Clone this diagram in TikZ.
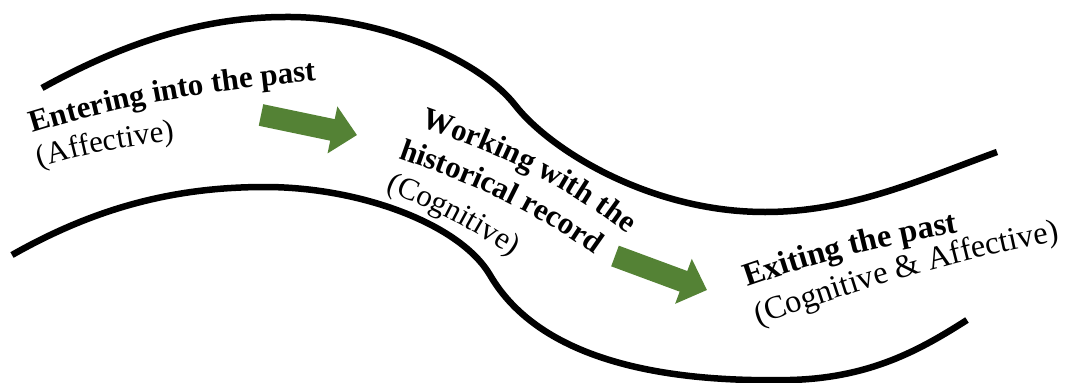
\documentclass[tikz,border=0pt]{standalone}
\usepackage{fontspec}
\setmainfont{Liberation Serif}
\usetikzlibrary{decorations.text}
\definecolor{arrowgreen}{RGB}{84,130,53}
\tikzset{
  road/.style={line width=6.5pt, line cap=butt},
  blockarrow/.pic={\fill[arrowgreen] (0,-11) -- (73,-11) -- (73,-24) -- (98,0) -- (73,24) -- (73,11) -- (0,11) -- cycle;},
  boldtext/.style 2 args={decorate, decoration={text along path, text={|\fontsize{#1}{#1}\selectfont\bfseries|#2}}},
  plaintext/.style 2 args={decorate, decoration={text along path, text={|\fontsize{#1}{#1}\selectfont|#2}}}
}
\begin{document}
\begin{tikzpicture}[x=1pt,y=-1pt]
\useasboundingbox (0,0) rectangle (1066,383);
% road edges
\draw[road] (42,88) .. controls (120,45) and (200,17) .. (285,17)
  .. controls (380,16) and (480,60) .. (515,105)
  .. controls (550,150) and (650,212) .. (765,212)
  .. controls (850,212) and (920,180) .. (997,152);
\draw[road] (12,255) .. controls (100,205) and (180,187) .. (265,187)
  .. controls (360,187) and (460,224) .. (490,275)
  .. controls (522,330) and (600,384) .. (790,380)
  .. controls (870,378) and (920,350) .. (967,320);
% arrows
\pic[rotate=-11.8] at (261,115) {blockarrow};
\pic[rotate=-20.3] at (615,256) {blockarrow};
% texts
\path[boldtext={31}{Entering into the past}] (33,133) .. controls (130,103) and (230,85) .. (400,74);
\path[plaintext={31}{(Affective)}] (40,168) .. controls (80,155) and (130,143) .. (240,134);
\path[boldtext={31}{Working with the}] (420,127) .. controls (485,150) and (575,180) .. (680,280);
\path[boldtext={31}{historical record}] (398,158) .. controls (460,180) and (550,210) .. (650,300);
\path[plaintext={31}{(Cognitive)}] (386,190) .. controls (420,205) and (470,222) .. (560,290);
\path[boldtext={32.5}{Exiting the past}] (747,287) .. controls (820,262) and (890,240) .. (1040,220);
\path[plaintext={32.5}{(Cognitive {\&} Affective)}] (758,325) .. controls (860,290) and (960,255) .. (1120,230);
\end{tikzpicture}
\end{document}
